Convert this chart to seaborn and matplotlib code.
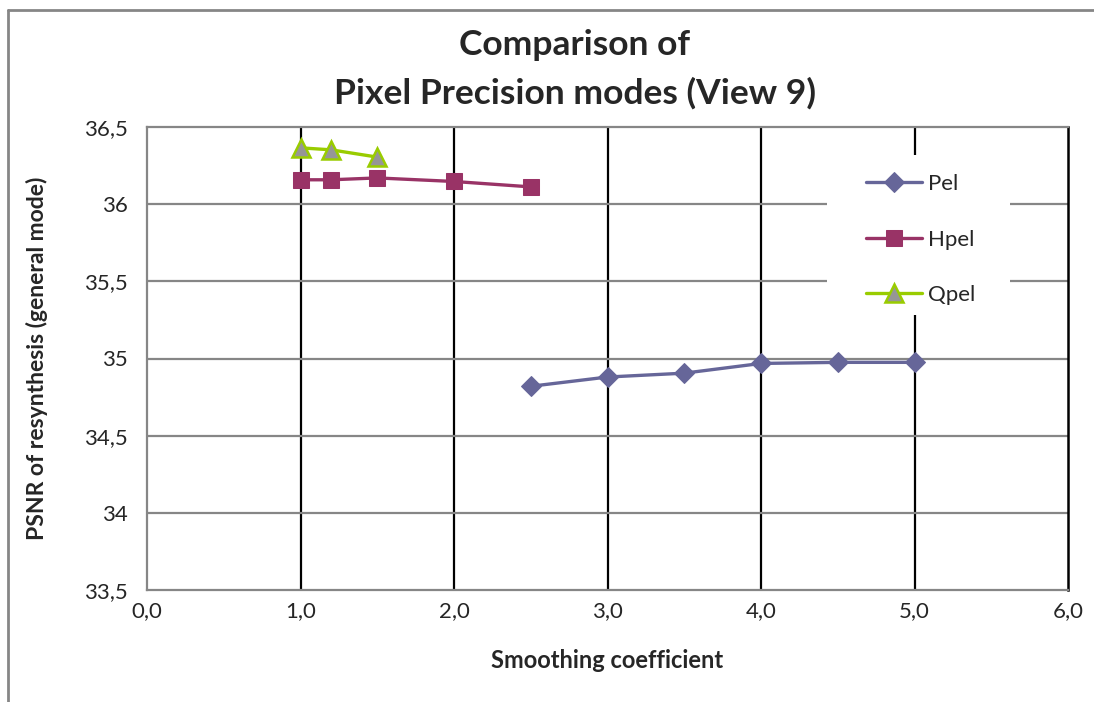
import matplotlib
matplotlib.use("Agg")
import matplotlib.pyplot as plt
from matplotlib.lines import Line2D
from matplotlib.patches import Rectangle
import seaborn as sns
import pandas as pd

# Smoothing coefficient vs. PSNR of resynthesis for each pixel precision mode
pel_x = [2.5, 3.0, 3.5, 4.0, 4.5, 5.0]
pel_y = [34.82, 34.88, 34.905, 34.968, 34.975, 34.975]

hpel_x = [1.0, 1.2, 1.5, 2.0, 2.5]
hpel_y = [36.158, 36.158, 36.17, 36.147, 36.112]

qpel_x = [1.0, 1.2, 1.5]
qpel_y = [36.365, 36.352, 36.305]

x_ticks = [0, 1, 2, 3, 4, 5, 6]
x_tick_labels = ["0,0", "1,0", "2,0", "3,0", "4,0", "5,0", "6,0"]
y_ticks = [33.5, 34.0, 34.5, 35.0, 35.5, 36.0, 36.5]
y_tick_labels = ["33,5", "34", "34,5", "35", "35,5", "36", "36,5"]

sns.set_style("white")
plt.rcParams["font.family"] = ["Lato", "DejaVu Sans"]

W, H = 1094, 702
fig = plt.figure(figsize=(W / 100, H / 100), dpi=100)
ax = fig.add_axes([147 / W, 1 - 590 / H, (1068 - 147) / W, (590 - 127) / H])

GRAY = "#868686"

series = [
    ("Pel", pel_x, pel_y, dict(color="#666699", marker="D", markersize=10,
                               markerfacecolor="#666699", markeredgecolor="#666699")),
    ("Hpel", hpel_x, hpel_y, dict(color="#993366", marker="s", markersize=11,
                                  markerfacecolor="#993366", markeredgecolor="#993366")),
    ("Qpel", qpel_x, qpel_y, dict(color="#99CC00", marker="^", markersize=13,
                                  markerfacecolor="#969696", markeredgecolor="#99CC00",
                                  markeredgewidth=1.8)),
]
for name, xs, ys, style in series:
    df = pd.DataFrame({"x": xs, "y": ys})
    sns.lineplot(data=df, x="x", y="y", ax=ax, label=name, linewidth=2.4,
                 clip_on=False, zorder=5, **style)

ax.set_xlim(0, 6)
ax.set_ylim(33.5, 36.5)
ax.set_xticks(x_ticks)
ax.set_xticklabels(x_tick_labels)
ax.set_yticks(y_ticks)
ax.set_yticklabels(y_tick_labels)
ax.tick_params(axis="both", direction="out", length=5, width=1.4, color=GRAY,
               labelsize=16)
ax.tick_params(axis="y", pad=9)
ax.tick_params(axis="x", pad=3)

# Vertical grid lines are black, horizontal ones gray
ax.grid(False)
for xv in x_ticks[1:-1]:
    ax.axvline(xv, color="black", linewidth=1.6, zorder=1)
for yv in y_ticks[1:-1]:
    ax.axhline(yv, color=GRAY, linewidth=1.6, zorder=1)
for side in ("left", "bottom", "top"):
    ax.spines[side].set_color(GRAY)
    ax.spines[side].set_linewidth(1.6)
ax.spines["right"].set_color("black")
ax.spines["right"].set_linewidth(1.8)

ax.set_xlabel("Smoothing coefficient", fontsize=17, fontweight="bold", labelpad=20)
ax.set_ylabel("PSNR of resynthesis (general mode)", fontsize=16.5, fontweight="bold",
              labelpad=26)

fig.text(575 / W, 1 - 45 / H, "Comparison of", ha="center", va="center",
         fontsize=25.5, fontweight="bold")
fig.text(575 / W, 1 - 93 / H, "Pixel Precision modes (View 9)", ha="center",
         va="center", fontsize=25.5, fontweight="bold")

# White legend area that interrupts the grid lines
ax.add_patch(Rectangle((827 / W, 1 - 315 / H), (1010 - 827) / W, (315 - 155) / H,
                       transform=fig.transFigure, facecolor="white", edgecolor="none",
                       zorder=8, clip_on=False))
leg = ax.legend(loc="upper left", bbox_to_anchor=(866 / W, 1 - 174 / H),
                bbox_transform=fig.transFigure, borderaxespad=0, borderpad=0,
                fontsize=16, frameon=False, handlelength=2.5, handletextpad=0.3,
                labelspacing=1.6)
leg.set_zorder(10)

# Outer chart frame
fig.add_artist(Line2D([8 / W, 1.0], [1 - 10 / H, 1 - 10 / H], color=GRAY, linewidth=2,
                      transform=fig.transFigure))
fig.add_artist(Line2D([8 / W, 8 / W], [1 - 10 / H, 0.0], color=GRAY, linewidth=2,
                      transform=fig.transFigure))

fig.savefig("out.png", dpi=100, facecolor="white")
